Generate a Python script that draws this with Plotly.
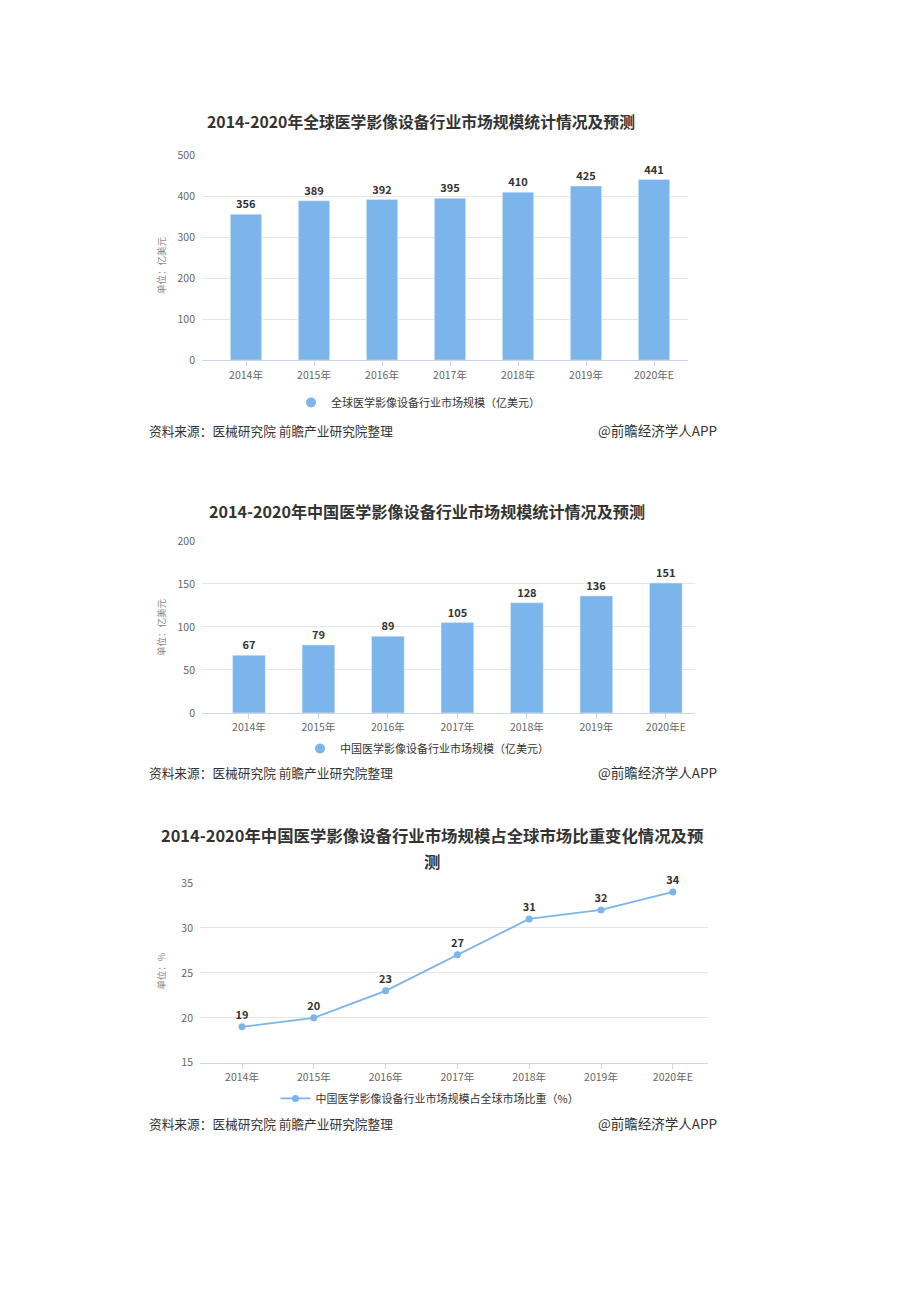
import plotly.graph_objects as go

W, H = 920, 1302

years = ["2014年", "2015年", "2016年", "2017年", "2018年", "2019年", "2020年E"]
global_size = [356, 389, 392, 395, 410, 425, 441]
china_size = [67, 79, 89, 105, 128, 136, 151]
china_share = [19, 20, 23, 27, 31, 32, 34]

title1 = "2014-2020年全球医学影像设备行业市场规模统计情况及预测"
title2 = "2014-2020年中国医学影像设备行业市场规模统计情况及预测"
title3a = "2014-2020年中国医学影像设备行业市场规模占全球市场比重变化情况及预"
title3b = "测"
name1 = "全球医学影像设备行业市场规模（亿美元）"
name2 = "中国医学影像设备行业市场规模（亿美元）"
name3 = "中国医学影像设备行业市场规模占全球市场比重（%）"
source = "资料来源：医械研究院 前瞻产业研究院整理"
credit = "@前瞻经济学人APP"
unit1 = "单位：亿美元"
unit3 = "单位：%"

BLUE = "#7cb5ec"
FONT = "Noto Sans CJK SC"
TICK = "#666666"
DARK = "#333333"
GRID = "#e6e6e6"


def px(x):
    return x / W


def py(y):
    return 1 - y / H


fig = go.Figure()

# Chart 1
fig.add_trace(go.Bar(x=list(range(len(years))), y=global_size, width=0.46,
                     marker_color=BLUE, text=global_size, textposition="outside",
                     textfont=dict(family=FONT, size=11, color=DARK, weight="bold"),
                     cliponaxis=False, showlegend=False, xaxis="x", yaxis="y"))
fig.add_trace(go.Scatter(x=[None], y=[None], mode="markers", name=name1,
                         marker=dict(color=BLUE, size=10, symbol="circle"),
                         xaxis="x", yaxis="y", legend="legend"))
# Chart 2
fig.add_trace(go.Bar(x=list(range(len(years))), y=china_size, width=0.47,
                     marker_color=BLUE, text=china_size, textposition="outside",
                     textfont=dict(family=FONT, size=11, color=DARK, weight="bold"),
                     cliponaxis=False, showlegend=False, xaxis="x2", yaxis="y2"))
fig.add_trace(go.Scatter(x=[None], y=[None], mode="markers", name=name2,
                         marker=dict(color=BLUE, size=10, symbol="circle"),
                         xaxis="x2", yaxis="y2", legend="legend2"))
# Chart 3
fig.add_trace(go.Scatter(x=list(range(len(years))), y=china_share, mode="lines+markers+text",
                         name=name3, line=dict(color=BLUE, width=1.8),
                         marker=dict(color=BLUE, size=7),
                         text=china_share, textposition="top center",
                         textfont=dict(family=FONT, size=11, color=DARK, weight="bold"),
                         cliponaxis=False, xaxis="x3", yaxis="y3", legend="legend3"))

common_x = dict(tickmode="array", tickvals=list(range(len(years))), ticktext=years,
                showgrid=False, showline=True, linecolor="#ccd6eb", linewidth=1,
                ticks="outside", ticklen=5, tickcolor="#ccd6eb",
                tickfont=dict(family=FONT, size=10.5, color=TICK), zeroline=False,
                fixedrange=True)
common_y = dict(showgrid=True, gridcolor=GRID, gridwidth=1, zeroline=False,
                showline=False, ticks="", tickfont=dict(family=FONT, size=10.5, color=TICK),
                ticklabelstandoff=6)

LEG = dict(xanchor="center", yanchor="middle", orientation="h",
           font=dict(family=FONT, size=11, color=DARK), bgcolor="rgba(0,0,0,0)")

fig.update_layout(
    width=W, height=H, margin=dict(l=0, r=0, t=0, b=0),
    paper_bgcolor="white", plot_bgcolor="white",
    font=dict(family=FONT, color=DARK),
    xaxis=dict(common_x, domain=[px(194), px(680)], range=[-0.647, 6.5], anchor="y"),
    yaxis=dict(common_y, domain=[py(348), py(141)], range=[0, 500], dtick=100, anchor="x"),
    xaxis2=dict(common_x, domain=[px(194), px(687)], range=[-0.676, 6.42], anchor="y2"),
    yaxis2=dict(common_y, domain=[py(705), py(531)], range=[0, 200], dtick=50, anchor="x2"),
    xaxis3=dict(common_x, domain=[px(192), px(700)], range=[-0.585, 6.49], anchor="y3"),
    yaxis3=dict(common_y, domain=[py(1059), py(877)], range=[15, 35], dtick=5, anchor="x3"),
    legend=dict(LEG, x=px(410), y=py(391)),
    legend2=dict(LEG, x=px(419), y=py(741)),
    legend3=dict(LEG, x=px(422), y=py(1095)),
)

anns = []
# titles
for t, x, y, s in [(title1, 413, 107, 15.8), (title2, 419, 501, 16.1),
                   (title3a, 424, 829, 16.4), (title3b, 424, 855, 16.4)]:
    anns.append(dict(text=t, x=px(x), y=py(y), xref="paper", yref="paper",
                     xanchor="center", yanchor="middle", showarrow=False, borderpad=0,
                     font=dict(family=FONT, size=s, color=DARK, weight="bold"),
                     align="center"))
# unit labels
for t, y in [(unit1, 252), (unit1, 618), (unit3, 966)]:
    anns.append(dict(text=t, x=px(153), y=py(y), xref="paper", yref="paper",
                     xanchor="center", yanchor="middle", showarrow=False, textangle=-90,
                     font=dict(family=FONT, size=9.5, color="#888888")))
# sources
for y in [419, 765, 1120]:
    anns.append(dict(text=source, x=px(139), y=py(y), xref="paper", yref="paper",
                     xanchor="left", yanchor="middle", showarrow=False,
                     font=dict(family=FONT, size=12.7, color=DARK)))
    anns.append(dict(text=credit, x=px(711), y=py(y), xref="paper", yref="paper",
                     xanchor="right", yanchor="middle", showarrow=False,
                     font=dict(family=FONT, size=13.5, color=DARK)))
fig.update_layout(annotations=anns)

fig.write_html("out.html")
